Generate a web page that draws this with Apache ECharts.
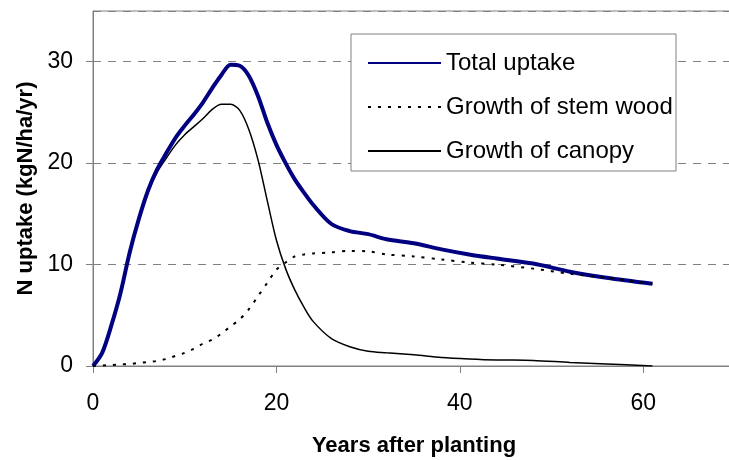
<!DOCTYPE html>
<html>
<head>
<meta charset="utf-8">
<script src="https://cdn.jsdelivr.net/npm/echarts@6/dist/echarts.min.js"></script>
<style>
  html, body { margin: 0; padding: 0; background: #fff; }
  #main { width: 729px; height: 460px; }
</style>
</head>
<body>
<div id="main"></div>
<script>
// years after planting
var years = [0, 1, 2, 3, 4, 5, 6, 7, 8, 9, 10, 11, 12, 13, 14, 15, 16, 17, 18, 19, 20,
  21, 22, 23, 24, 26, 28, 30, 32, 35, 38, 41, 44, 48, 52, 56, 61];
var totalUptake = [0, 1.3, 4.0, 7.2, 11.2, 14.5, 17.3, 19.4, 21.0, 22.5, 23.7, 24.8, 26.0, 27.4, 28.7, 29.7, 29.6,
  28.6, 26.6, 24.0, 21.8, 20.0, 18.4, 17.1, 15.9, 14.0, 13.3, 13.0, 12.5, 12.1, 11.5, 11.0, 10.6, 10.1, 9.3, 8.7, 8.1];
var stemWood = [0, 0.05, 0.1, 0.15, 0.2, 0.3, 0.4, 0.5, 0.7, 1.0, 1.3, 1.7, 2.2, 2.6, 3.2, 3.9, 4.6,
  5.6, 6.9, 8.2, 9.5, 10.2, 10.8, 11.0, 11.1, 11.2, 11.35, 11.3, 11.0, 10.8, 10.5, 10.2, 10.0, 9.6, 9.1, 8.7, 8.1];
var canopy = [0, 1.3, 4.0, 7.2, 11.1, 14.4, 17.1, 19.1, 20.5, 21.8, 22.8, 23.6, 24.4, 25.3, 25.8, 25.8, 25.2,
  23.3, 20.3, 16.3, 12.4, 9.6, 7.5, 5.8, 4.4, 2.7, 1.9, 1.45, 1.3, 1.1, 0.85, 0.7, 0.6, 0.55, 0.35, 0.2, 0];
var seriesNames = ['Total uptake', 'Growth of stem wood', 'Growth of canopy'];

function pairs(vals) {
  return years.map(function (y, i) { return [y, vals[i]]; });
}

var font = 'Liberation Sans, Arial, sans-serif';
var myChart = echarts.init(document.getElementById('main'));
var option = {
  backgroundColor: '#fff',
  animation: false,
  grid: {
    left: 93, top: 11, width: 642, height: 355,
    show: true, borderColor: '#808080', borderWidth: 1,
    containLabel: false, outerBoundsMode: 'none'
  },
  graphic: [{
    type: 'rect', z: 50,
    shape: { x: 351, y: 34, width: 325, height: 137 },
    style: { fill: '#fff', stroke: '#808080', lineWidth: 1 }
  }],
  legend: {
    z: 60,
    orient: 'vertical',
    left: 362, top: 46,
    itemWidth: 73, itemHeight: 24, itemGap: 20,
    itemStyle: { opacity: 0 },
    data: seriesNames,
    textStyle: { fontFamily: font, fontSize: 24, color: '#000', lineHeight: 24 }
  },
  xAxis: {
    type: 'value', min: 0, max: 70, interval: 20,
    name: 'Years after planting', nameLocation: 'middle', nameGap: 69,
    nameTextStyle: { fontFamily: font, fontSize: 22, fontWeight: 'bold', color: '#000' },
    axisLine: { lineStyle: { color: '#808080', width: 1 } },
    axisTick: { length: 7, lineStyle: { color: '#808080' } },
    axisLabel: { fontFamily: font, fontSize: 23, color: '#000', margin: 26, showMaxLabel: false },
    splitLine: { show: false }
  },
  yAxis: {
    type: 'value', min: 0, max: 35, interval: 10,
    name: 'N uptake (kgN/ha/yr)', nameLocation: 'middle', nameGap: 53,
    nameTextStyle: { fontFamily: font, fontSize: 22, fontWeight: 'bold', color: '#000' },
    axisLine: { show: true, lineStyle: { color: '#808080', width: 1 } },
    axisTick: { show: true, length: 7, lineStyle: { color: '#808080' } },
    axisLabel: { fontFamily: font, fontSize: 23, color: '#000', margin: 20, showMaxLabel: false },
    splitLine: { show: true, lineStyle: { color: '#808080', type: [8, 7], width: 1 } }
  },
  series: [
    {
      name: seriesNames[0], type: 'line', data: pairs(totalUptake),
      symbol: 'none', smooth: 0.3, z: 3,
      color: '#000080',
      lineStyle: { color: '#000080', width: 4 }
    },
    {
      name: seriesNames[1], type: 'line', data: pairs(stemWood),
      symbol: 'none', smooth: 0.3, z: 4,
      color: '#000',
      lineStyle: { color: '#000', width: 2, type: [3, 7] }
    },
    {
      name: seriesNames[2], type: 'line', data: pairs(canopy),
      symbol: 'none', smooth: 0.3, z: 2,
      color: '#000',
      lineStyle: { color: '#000', width: 1.5 }
    }
  ]
};
myChart.setOption(option);
</script>
</body>
</html>
